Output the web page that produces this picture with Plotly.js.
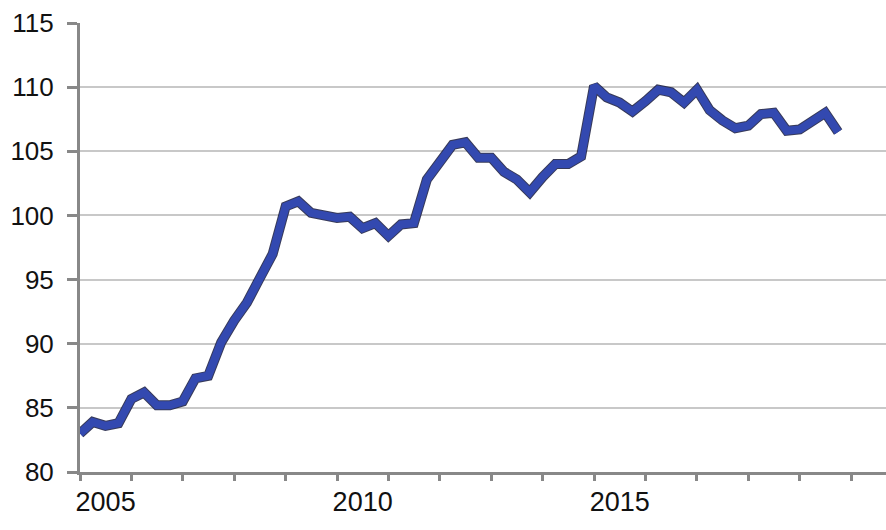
<!DOCTYPE html>
<html>
<head>
<meta charset="utf-8">
<script src="https://cdn.plot.ly/plotly-3.0.1.min.js"></script>
<style>
  html, body { margin: 0; padding: 0; background: #ffffff; }
  #chart { width: 886px; height: 530px; }
</style>
</head>
<body>
<div id="chart"></div>
<script>
// Quarterly observations, 2005 Q1 .. 2019 Q4
const years = [2005, 2006, 2007, 2008, 2009, 2010, 2011, 2012, 2013, 2014, 2015, 2016, 2017, 2018, 2019];
const quarterStarts = ['01-01', '04-01', '07-01', '10-01'];

const values = [
  83.0, 83.9, 83.6, 83.8,     // 2005
  85.7, 86.2, 85.2, 85.2,     // 2006
  85.5, 87.3, 87.5, 90.1,     // 2007
  91.8, 93.2, 95.1, 97.0,     // 2008
  100.7, 101.1, 100.2, 100.0, // 2009
  99.8, 99.9, 99.0, 99.4,     // 2010
  98.4, 99.3, 99.4, 102.8,    // 2011
  104.1, 105.5, 105.7, 104.5, // 2012
  104.5, 103.4, 102.8, 101.8, // 2013
  103.0, 104.0, 104.0, 104.6, // 2014
  110.1, 109.2, 108.8, 108.1, // 2015
  108.9, 109.8, 109.6, 108.8, // 2016
  109.8, 108.2, 107.4, 106.8, // 2017
  107.0, 107.9, 108.0, 106.6, // 2018
  106.7, 107.3, 108.0, 106.5  // 2019
];

const yearLabels = ['2005', '2010', '2015'];
const yearLabelPositions = ['2005-07-02', '2010-07-02', '2015-07-02'];

const dates = [];
years.forEach(y => quarterStarts.forEach(q => dates.push(y + '-' + q)));

const lineColor = '#3349b0';

const traces = [
  {
    x: dates, y: values, type: 'scatter', mode: 'lines',
    line: { color: 'rgba(20,24,60,0.85)', width: 10 },
    hoverinfo: 'skip', showlegend: false
  },
  {
    x: dates, y: values, type: 'scatter', mode: 'lines',
    line: { color: lineColor, width: 8 },
    showlegend: false
  }
];

const layout = {
  width: 886, height: 530,
  margin: { l: 80, r: 0, t: 23, b: 58, pad: 0 },
  paper_bgcolor: '#ffffff', plot_bgcolor: '#ffffff',
  showlegend: false,
  font: { family: 'Liberation Sans, Arial, sans-serif', color: '#111111' },
  xaxis: {
    type: 'date',
    range: ['2005-01-01', '2020-09-05'],
    tickmode: 'array',
    tickvals: yearLabelPositions,
    ticktext: yearLabels,
    ticks: '',
    tickfont: { size: 27, color: '#111111' },
    ticklabelstandoff: 4,
    showgrid: false, zeroline: false,
    showline: true, linecolor: '#888888', linewidth: 3,
    minor: { ticks: 'outside', tick0: '2005-01-01', dtick: 'M12', ticklen: 6, tickwidth: 3, tickcolor: '#888888', showgrid: false },
    fixedrange: true
  },
  yaxis: {
    range: [80, 115],
    tick0: 80, dtick: 5,
    ticks: 'outside', ticklen: 10, tickwidth: 3, tickcolor: '#888888',
    tickfont: { size: 26, color: '#111111' },
    ticklabelstandoff: 8,
    showgrid: true, gridcolor: '#c8c8c8', gridwidth: 2,
    zeroline: false,
    showline: true, linecolor: '#888888', linewidth: 3,
    fixedrange: true
  }
};

Plotly.newPlot('chart', traces, layout, { displayModeBar: false, staticPlot: true });
</script>
</body>
</html>
